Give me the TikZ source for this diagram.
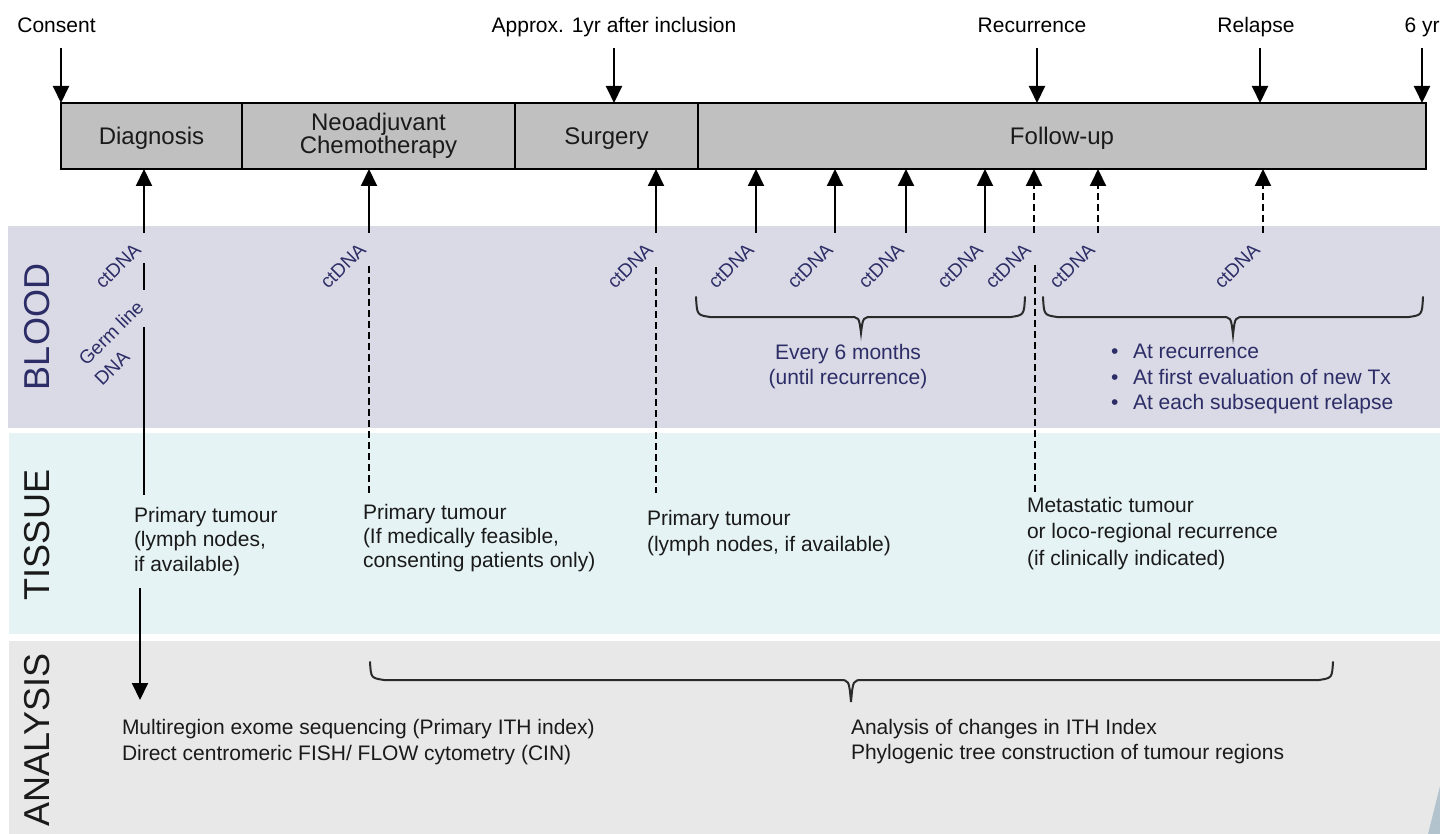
\documentclass[tikz,border=0pt]{standalone}
\usepackage{fontspec}
\setmainfont{Liberation Sans}
\usetikzlibrary{arrows.meta}
\definecolor{bloodbg}{HTML}{DAD9E6}
\definecolor{tissuebg}{HTML}{E5F3F4}
\definecolor{anabg}{HTML}{E8E8E8}
\definecolor{boxgray}{HTML}{C0C0C0}
\definecolor{navy}{HTML}{2C2D66}
\definecolor{ink}{HTML}{1A1A1A}
\definecolor{braceink}{HTML}{2A2A2A}
\definecolor{decor}{HTML}{B3C3CD}
\begin{document}
\begin{tikzpicture}[x=1pt,y=-1pt,
  every node/.style={inner sep=0pt,outer sep=0pt},
  phase/.style={draw=black,line width=2.5pt,fill=boxgray,minimum height=66pt,anchor=north west},
  plabel/.style={font=\fontsize{24}{23.5}\selectfont,text=ink,align=center},
  toplabel/.style={font=\fontsize{21}{24}\selectfont,text=black,anchor=base},
  ct/.style={rotate=45,font=\fontsize{19}{21}\selectfont,text=navy},
  bandlabel/.style={rotate=90,font=\fontsize{36}{40}\selectfont},
  body/.style={font=\fontsize{21}{24.5}\selectfont,text=ink,align=left,anchor=north west},
  arr/.style={line width=2pt,-{Triangle[width=16pt,length=17pt]}},
  darr/.style={arr,dash pattern=on 7pt off 4pt},
  ln/.style={line width=2pt},
  dsh/.style={line width=2pt,dash pattern=on 7pt off 4pt},
  brace/.style={line width=2pt,draw=braceink,line cap=round}
]
\useasboundingbox (0,0) rectangle (1440,834);
\fill[white] (0,0) rectangle (1440,834);

% bands
\fill[bloodbg] (8,226) rectangle (1440,428);
\fill[tissuebg] (9,433) rectangle (1440,634);
\fill[anabg] (9,641) rectangle (1440,834);
\fill[decor] (1440,786) .. controls (1435,806) and (1431,822) .. (1428,834) -- (1440,834) -- cycle;

% band labels
\node[bandlabel,text=navy] (lblood) at (37,327) {BLOOD};
\node[bandlabel,text=ink] (ltissue) at (37,535) {TISSUE};
\node[bandlabel,text=ink] (lana) at (37,740) {ANALYSIS};

% timeline
\node[phase,minimum width=181pt] (diag) at (61,103) {};
\node[phase,minimum width=273pt] (neo) at (242,103) {};
\node[phase,minimum width=183pt] (surg) at (515,103) {};
\node[phase,minimum width=728pt] (fu) at (698,103) {};
\node[plabel,anchor=base] (ldiag) at (151.5,145) {Diagnosis};
\node[plabel,anchor=center] (lneo) at (378.5,136) {Neoadjuvant\\Chemotherapy};
\node[plabel,anchor=base] (lsurg) at (606.5,145) {Surgery};
\node[plabel,anchor=base] (lfu) at (1062,145) {Follow-up};

% top labels and arrows
\node[toplabel] (tconsent) at (56.5,33) {Consent};
\node[toplabel] (tapprox) at (614,33) {Approx. 1yr after inclusion};
\node[toplabel] (trec) at (1032,33) {Recurrence};
\node[toplabel] (trel) at (1256,33) {Relapse};
\node[toplabel] (tsix) at (1422,33) {6 yr};
\coordinate (c1) at (61,48);
\coordinate (c2) at (614,48);
\coordinate (c3) at (1037,48);
\coordinate (c4) at (1260,48);
\coordinate (c5) at (1422,48);
\draw[arr] (c1) -- (c1 |- diag.north);
\draw[arr] (c2) -- (c2 |- surg.north);
\draw[arr] (c3) -- (c3 |- fu.north);
\draw[arr] (c4) -- (c4 |- fu.north);
\draw[arr] (c5) -- (c5 |- fu.north);

% up arrows into the timeline
\coordinate (uA) at (144,233);
\coordinate (uB) at (369,233);
\coordinate (uC) at (656,233);
\coordinate (u1) at (756,233);
\coordinate (u2) at (835,233);
\coordinate (u3) at (906,233);
\coordinate (u4) at (985,233);
\coordinate (u5) at (1034,233);
\coordinate (u6) at (1098,233);
\coordinate (u7) at (1263,233);
\draw[arr] (uA) -- (uA |- diag.south);
\draw[arr] (uB) -- (uB |- neo.south);
\draw[arr] (uC) -- (uC |- surg.south);
\draw[arr] (u1) -- (u1 |- fu.south);
\draw[arr] (u2) -- (u2 |- fu.south);
\draw[arr] (u3) -- (u3 |- fu.south);
\draw[arr] (u4) -- (u4 |- fu.south);
\draw[darr] (u5) -- (u5 |- fu.south);
\draw[darr] (u6) -- (u6 |- fu.south);
\draw[darr] (u7) -- (u7 |- fu.south);

% ctDNA labels
\node[ct] (ct1) at (118,266) {ctDNA};
\node[ct] (ct2) at (343,266) {ctDNA};
\node[ct] (ct3) at (630,266) {ctDNA};
\node[ct] (ct4) at (731,266) {ctDNA};
\node[ct] (ct5) at (810,266) {ctDNA};
\node[ct] (ct6) at (881,266) {ctDNA};
\node[ct] (ct7) at (960,266) {ctDNA};
\node[ct] (ct8) at (1008,266) {ctDNA};
\node[ct] (ct9) at (1072,266) {ctDNA};
\node[ct] (ct10) at (1237,266) {ctDNA};
\node[ct] (germ) at (111,333) {Germ line};
\node[ct] (dna) at (112,368) {DNA};

% tissue texts
\node[body] (t1) at (134,507) {Primary tumour\\(lymph nodes,\\if available)};
\node[body,font=\fontsize{21}{24}\selectfont] (t2) at (363,504) {Primary tumour\\(If medically feasible,\\consenting patients only)};
\node[body,font=\fontsize{21}{26.5}\selectfont] (t3) at (647,510) {Primary tumour\\(lymph nodes, if available)};
\node[body,font=\fontsize{21}{26.5}\selectfont] (t4) at (1027,497) {Metastatic tumour\\or loco-regional recurrence\\(if clinically indicated)};

% vertical lines through blood and tissue
\coordinate (sA1) at (144,263);
\coordinate (sA2) at (144,290);
\coordinate (sA3) at (144,327);
\coordinate (sA4) at (144,495);
\draw[ln] (sA1) -- (sA2);
\draw[ln] (sA3) -- (sA4);
\coordinate (dB1) at (369,266);
\coordinate (dB2) at (369,493);
\draw[dsh] (dB1) -- (dB2);
\coordinate (dC1) at (656,267);
\coordinate (dC2) at (656,493);
\draw[dsh] (dC1) -- (dC2);
\coordinate (dR1) at (1035,265);
\coordinate (dR2) at (1035,492);
\draw[dsh] (dR1) -- (dR2);

% blood braces and texts
\draw[brace] (696,297) .. controls (697,315) .. (710,317) -- (849,317) .. controls (859,317) .. (861,333) .. controls (863,317) .. (873,317) -- (1011,317) .. controls (1024,315) .. (1025,297);
\draw[brace] (1043,297) .. controls (1044,315) .. (1057,317) -- (1221,317) .. controls (1231,317) .. (1233,335) .. controls (1235,317) .. (1245,317) -- (1409,317) .. controls (1422,315) .. (1423,297);
\node[body,align=center,anchor=north,text=navy,font=\fontsize{21}{25}\selectfont] (every) at (848,344.5) {Every 6 months\\(until recurrence)};
\node[body,text=navy,font=\fontsize{21}{25.5}\selectfont] (bul) at (1111,344.5) {\makebox[22pt][l]{\textbullet}At recurrence\\\makebox[22pt][l]{\textbullet}At first evaluation of new Tx\\\makebox[22pt][l]{\textbullet}At each subsequent relapse};

% analysis
\coordinate (lA1) at (140,588);
\coordinate (lA2) at (140,700);
\draw[arr] (lA1) -- (lA2);
\draw[brace] (370,662) .. controls (371,678) .. (384,680) -- (839,680) .. controls (849,680) .. (851,702) .. controls (853,680) .. (863,680) -- (1319,680) .. controls (1332,678) .. (1333,662);
\node[body,font=\fontsize{21}{26}\selectfont] (a1) at (122,719.5) {Multiregion exome sequencing (Primary ITH index)\\Direct centromeric FISH/ FLOW cytometry (CIN)};
\node[body,font=\fontsize{21}{25}\selectfont] (a2) at (851,719.5) {Analysis of changes in ITH Index\\Phylogenic tree construction of tumour regions};
\end{tikzpicture}
\end{document}
